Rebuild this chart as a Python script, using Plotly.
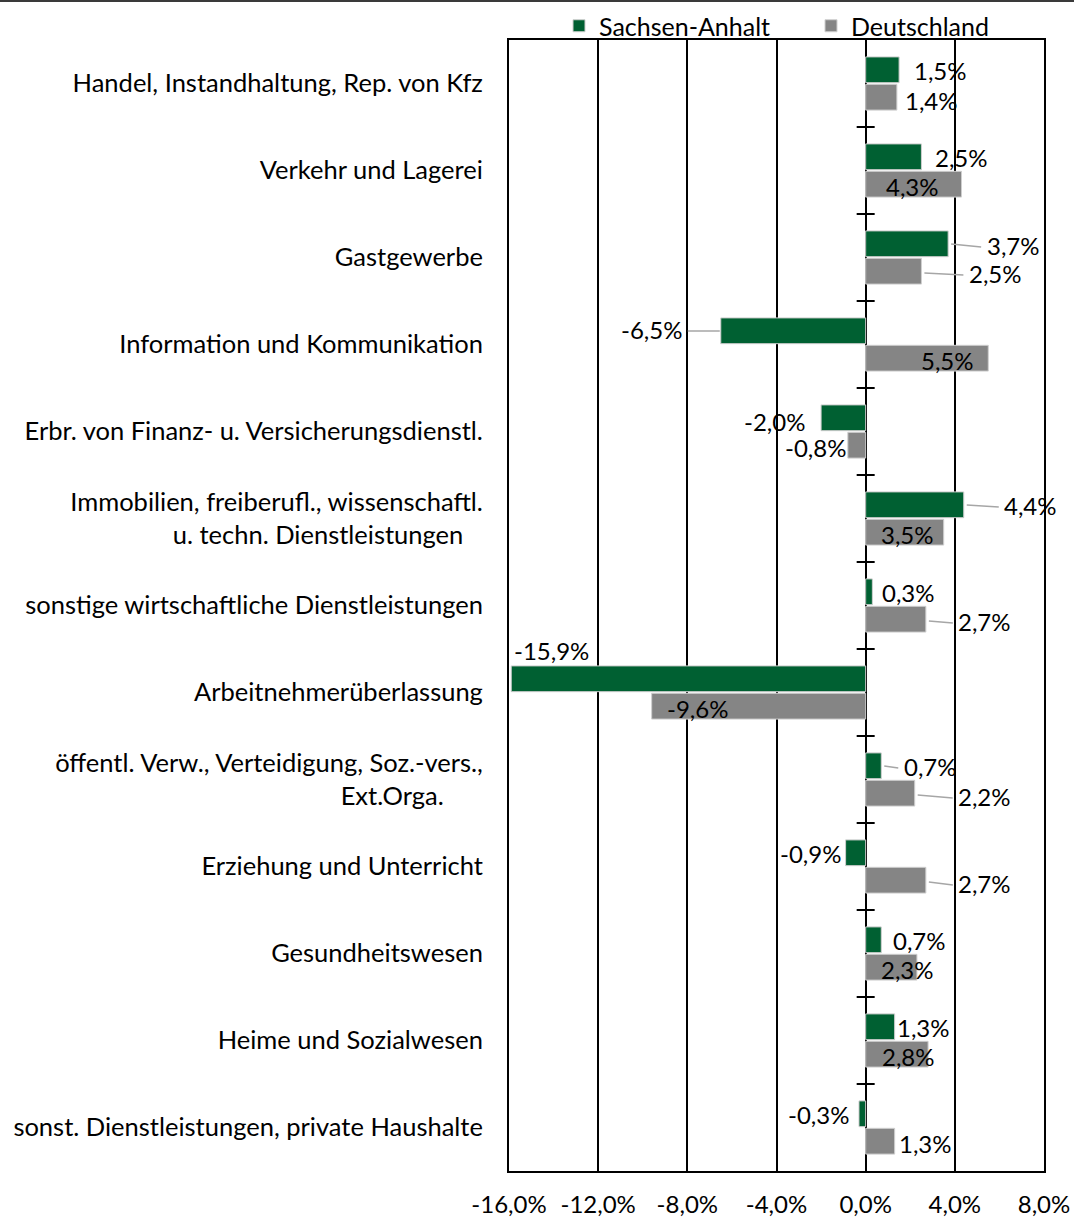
import plotly.graph_objects as go

categories = [
    "Handel, Instandhaltung, Rep. von Kfz",
    "Verkehr und Lagerei",
    "Gastgewerbe",
    "Information und Kommunikation",
    "Erbr. von Finanz- u. Versicherungsdienstl.",
    "Immobilien, freiberufl., wissenschaftl.<br>u. techn. Dienstleistungen\u00a0\u00a0\u00a0",
    "sonstige wirtschaftliche Dienstleistungen",
    "Arbeitnehmerüberlassung",
    "öffentl. Verw., Verteidigung, Soz.-vers.,<br>Ext.Orga.\u00a0\u00a0\u00a0\u00a0\u00a0\u00a0",
    "Erziehung und Unterricht",
    "Gesundheitswesen",
    "Heime und Sozialwesen",
    "sonst. Dienstleistungen, private Haushalte",
]
sachsen_anhalt = [1.5, 2.5, 3.7, -6.5, -2.0, 4.4, 0.3, -15.9, 0.7, -0.9, 0.7, 1.3, -0.3]
deutschland = [1.4, 4.3, 2.5, 5.5, -0.8, 3.5, 2.7, -9.6, 2.2, 2.7, 2.3, 2.8, 1.3]
x_tickvals = [-16, -12, -8, -4, 0, 4, 8]
x_ticktext = ["-16,0%", "-12,0%", "-8,0%", "-4,0%", "0,0%", "4,0%", "8,0%"]

# label placement (pixels, relative to bar end / category centre)
sa_dx = [41, 40, 65, -69, -47, 67, 36, 40, 49, -35, 38, 29, -40]
de_dx = [35, -49, 74, -41, -32, -36, 59, 46, 70, 59, -9, -20, 31]
sa_dy = [-13.5, -13.5, -12.5, -15.5, -10, -13.5, -13.5, -42, -13.5, -13.5, -13.5, -13.5, -13.5]
de_dy = [16.5, 15.5, 15.5, 15.5, 15.5, 15.5, 15.5, 15.5, 16.5, 16.5, 15.5, 15.5, 15.5]
# leader lines: (series, row)
leaders = [("sa", 2), ("de", 2), ("sa", 3), ("sa", 5), ("de", 6), ("sa", 8), ("de", 8), ("de", 9)]

GREEN = "#006032"
GREY = "#858585"
FONT = "Lato"

W, H = 1074, 1219
ML, MR, MT, MB = 509, 30, 40, 48
plot_w = W - ML - MR
plot_h = H - MT - MB
KX = 24.0 / plot_w          # data units per px
KY = len(categories) / plot_h

def fmt(v):
    return f"{v:.1f}".replace(".", ",") + "%"

ys = list(range(len(categories)))

fig = go.Figure()
fig.add_trace(go.Bar(
    name="Sachsen-Anhalt", y=ys, x=sachsen_anhalt, orientation="h",
    marker=dict(color=GREEN, line=dict(color="#cfcfcf", width=1)),
))
fig.add_trace(go.Bar(
    name="Deutschland", y=ys, x=deutschland, orientation="h",
    marker=dict(color=GREY, line=dict(color="#cfcfcf", width=1)),
))

annotations = []
for i in ys:
    for vals, dxs, dys in ((sachsen_anhalt, sa_dx, sa_dy), (deutschland, de_dx, de_dy)):
        v = vals[i]
        annotations.append(dict(
            x=v, y=i, xref="x", yref="y", text=fmt(v), showarrow=False,
            xanchor="center", yanchor="middle", xshift=dxs[i], yshift=-dys[i],
            font=dict(family=FONT, size=24, color="black"),
        ))

shapes = []
# leader lines
for s, i in leaders:
    if s == "sa":
        v, dx, dy, bdy = sachsen_anhalt[i], sa_dx[i], sa_dy[i], -13.5
    else:
        v, dx, dy, bdy = deutschland[i], de_dx[i], de_dy[i], 15.5
    half = 31 if v < 0 else 27
    if v >= 0:
        x0 = v + 3 * KX
        x1 = v + (dx - half - 5) * KX
    else:
        x0 = v - 1 * KX
        x1 = v + (dx + half + 5) * KX
    shapes.append(dict(type="line", xref="x", yref="y",
                       x0=x0, x1=x1, y0=i + bdy * KY, y1=i + (dy + 2) * KY,
                       line=dict(color="#a6a6a6", width=1.5), layer="above"))
# small tick marks on the zero line between categories
for i in range(len(categories) - 1):
    shapes.append(dict(type="line", xref="x", yref="y",
                       x0=-9 * KX, x1=9 * KX, y0=i + 0.5, y1=i + 0.5,
                       line=dict(color="black", width=2), layer="above"))
# top frame line
shapes.append(dict(type="line", xref="paper", yref="paper",
                   x0=-ML / plot_w, x1=(W - ML) / plot_w,
                   y0=1 + (MT - 1) / plot_h, y1=1 + (MT - 1) / plot_h,
                   line=dict(color="#3a3a3a", width=2)))

fig.update_layout(
    width=W, height=H,
    margin=dict(l=ML, r=MR, t=MT, b=MB, autoexpand=False),
    paper_bgcolor="white", plot_bgcolor="white",
    barmode="group", bargap=0.37, bargroupgap=0.06,
    font=dict(family=FONT, size=25, color="black"),
    legend=dict(orientation="h", x=(559 - ML) / plot_w, xanchor="left",
                y=1 + 14 / plot_h, yanchor="middle",
                font=dict(family=FONT, size=25), itemwidth=30,
                entrywidth=207, entrywidthmode="pixels",
                bgcolor="rgba(0,0,0,0)"),
    annotations=annotations,
    shapes=shapes,
)
fig.update_xaxes(
    range=[-16, 8], tickvals=x_tickvals, ticktext=x_ticktext,
    showgrid=True, gridcolor="black", gridwidth=2,
    zeroline=True, zerolinecolor="black", zerolinewidth=2,
    showline=True, linecolor="black", linewidth=2, mirror=True,
    ticks="", ticklabelstandoff=11,
    tickfont=dict(family=FONT, size=24),
)
fig.update_yaxes(
    range=[len(categories) - 0.5, -0.5], tickvals=ys, ticktext=categories,
    showgrid=False, zeroline=False,
    showline=True, linecolor="black", linewidth=2, mirror=True,
    ticks="", ticklabelstandoff=19,
    tickfont=dict(family=FONT, size=25.5),
)

fig.write_html("out.html", config={"displayModeBar": False},
               post_script="document.body.style.margin='0';")
